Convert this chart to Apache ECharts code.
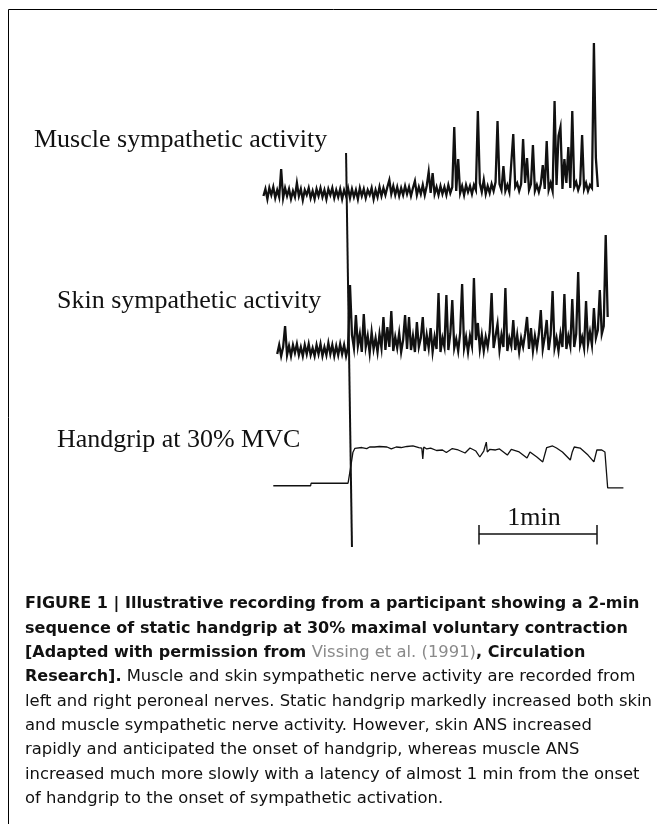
<!DOCTYPE html>
<html>
<head>
<meta charset="utf-8">
<script src="https://cdn.jsdelivr.net/npm/echarts@6/dist/echarts.min.js"></script>
<style>
html,body{margin:0;padding:0;background:#fff;}
#chart{width:657px;height:824px;}
</style>
</head>
<body>
<div id="chart"></div>
<script>
// ---------- DATA (time in s, 0 = handgrip onset) ----------
var muscleStart = -44;   // first sample time (s), 1 s sampling
var muscleValues = [
 -0.3, 0.4,-0.6, 0.5,-0.2, 0.6,-0.5, 0.3,-0.4, 2.4,
 -0.5, 0.5,-0.3, 0.4,-0.6, 0.2,-0.4, 1.0,-0.3, 0.4,
 -0.7, 0.3,-0.2, 0.5,-0.5, 0.2,-0.6, 0.4,-0.3, 0.5,
 -0.4, 0.3,-0.6, 0.4,-0.2, 0.5,-0.5, 0.3,-0.4, 0.4,
 -0.6, 0.3,-0.3, 0.5,-0.5, 0.4,-0.4, 0.3,-0.6, 0.5,
 -0.3, 0.4,-0.5, 0.3,-0.2, 0.5,-0.6, 0.3,-0.4, 0.6,
 -0.3, 0.5,-0.2, 0.6, 1.3,-0.1, 0.7,-0.2, 0.6,-0.3,
  0.5,-0.2, 0.7,-0.1, 0.6,-0.3, 0.5, 1.2,-0.2, 0.6,
 -0.1, 0.8,-0.2, 0.7, 2.1, 0.0, 2.0,-0.1, 0.6,-0.2,
  0.7,-0.1, 0.6,-0.2, 0.8, 0.0, 0.6, 6.6, 0.2, 3.4,
  0.0, 0.7,-0.2, 0.8, 0.1, 0.7,-0.1, 0.8, 0.3, 8.2,
  1.0, 0.1, 1.3,-0.1, 0.7, 0.0, 0.9, 0.2, 1.1, 7.2,
  0.9, 0.3, 2.7, 0.2, 0.8, 0.1, 3.0, 5.9, 0.6, 1.0,
  0.2, 0.9, 5.4, 1.0, 3.5, 0.3, 0.9, 4.8, 0.2, 0.8,
  0.1, 0.9, 2.8, 0.4, 5.2, 0.3, 1.0, 0.2, 9.2, 0.8,
  5.7, 6.6, 0.4, 3.4, 1.0, 4.6, 0.5, 8.2, 0.6, 1.1,
  0.3, 0.9, 5.8, 0.4, 1.0, 0.2, 0.8, 0.5,15.0, 3.5,
  0.6
];
var skinStart = -37;
var skinValues = [
 -0.4, 0.5,-0.6, 0.3, 2.4,-0.5, 0.4,-0.6, 0.5,-0.3,
  0.6,-0.5, 0.3,-0.6, 0.5,-0.4, 0.6,-0.5, 0.2,-0.6,
  0.5,-0.4, 0.6,-0.6, 0.3,-0.5, 0.7,-0.4, 0.5,-0.6,
  0.4,-0.5, 0.6,-0.4, 0.5,-0.6, 0.3, 6.5, 1.5, 0.2,
  3.5, 0.4, 1.6,-0.2, 3.6, 0.3, 1.4,-0.3, 1.8, 0.1,
  1.2,-0.2, 1.6, 0.2, 3.3, 0.0, 2.3, 0.3, 3.9,-0.1,
  1.3, 0.2, 1.7,-0.2, 1.0, 3.5, 0.1, 3.3, 0.0, 1.4,
 -0.2, 2.8, 0.3, 1.2, 3.3,-0.1, 1.5, 0.2, 2.2,-0.2,
  1.3, 0.1, 5.7,-0.2, 1.2, 0.3, 5.5, 0.0, 1.6, 5.0,
  0.2, 1.1,-0.1, 1.7, 6.6, 0.2, 1.3,-0.2, 1.4, 0.4,
  7.2, 1.0, 2.7, 0.1, 1.5,-0.1, 1.3, 0.3, 1.8, 5.7,
  0.2, 1.4, 2.6, 0.0, 1.5, 0.3, 6.2,-0.1, 1.2, 0.4,
  3.0, 0.0, 1.5,-0.2, 1.2, 0.3, 1.6, 3.3, 0.1, 2.2,
 -0.1, 1.4, 0.2, 1.6, 4.0, 0.1, 1.3, 3.0, 0.0, 1.5,
  5.9, 0.2, 1.2,-0.1, 1.6, 0.3, 5.6, 0.1, 1.4, 0.4,
  5.1, 0.3, 1.6, 7.8, 0.5, 1.3, 0.2, 4.9, 0.6, 1.8,
  0.5, 4.2, 1.2, 2.0, 6.0, 1.6, 2.4,11.5, 3.3
];
var gripTimes = [-39,-20,-19.8,-1,0,0.5,1.5,2.5,3.5,6,8.5,10,12.5,15,18.8,21,22,23.5,26,29,32,35,36.5,37,37.5,39,41,44,47,49,52,55,58.5,61,64,66,68,69.3,69.8,71,74,76,80,82,83,86,90,91.5,95,98,100,103,105,108,112,113,114,117,121,124,125.5,128,129.6,130.3,131,139];
var gripForce = [0.2,0.2,2.1,2.1,2.1,16,26,29,30,29.6,28.8,30,30,30.4,30,28.5,27.7,30,29.6,30.4,30.8,29.6,29.2,20.8,30,28.5,29.2,27.3,27.7,25.8,28.8,27.7,25.4,29.2,26.9,22.3,26.9,33.8,26.2,28.1,27.7,28.5,23.8,28.1,28.5,26.2,21.5,26.2,22.3,18.5,29.6,30.8,29.2,26.2,20,26.2,30,29.2,23.8,18.5,27.7,27.7,26.2,12.3,-1.5,-1.5];
var onsetTimes = [-2, 1];          // event marker (top, bottom)
var scaleBarStart = 65.5;          // s
var scaleBarLength = 60;           // 1 min
var labels = ['Muscle sympathetic activity','Skin sympathetic activity','Handgrip at 30% MVC'];
var scaleLabel = '1min';

// ---------- BUILD ----------
function uniform(start, vals){ return vals.map(function(v,i){ return [start+i, v]; }); }
function pairs(ts, vs){ return ts.map(function(t,i){ return [t, vs[i]]; }); }

var X0 = 251.65, XW = 393.4;
var grids = [
  {left:X0, width:XW, top:33,  height:180},   // muscle
  {left:X0, width:XW, top:225, height:145},   // skin
  {left:X0, width:XW, top:434, height:117},   // handgrip
  {left:X0, width:XW, top:153, height:394}    // onset marker
];
function xa(i){ return {type:'value', gridIndex:i, min:-50, max:150, show:false}; }
var yAxes = [
  {type:'value', gridIndex:0, min:-2, max:16, show:false},
  {type:'value', gridIndex:1, min:-2, max:12.5, show:false},
  {type:'value', gridIndex:2, min:-50, max:40, show:false},
  {type:'value', gridIndex:3, min:0, max:1, show:false}
];
var black = '#111';
var barY = -37, tickHalf = 7;
var series = [
  {type:'line', xAxisIndex:0, yAxisIndex:0, data:uniform(muscleStart, muscleValues), showSymbol:false, symbol:'none', lineStyle:{color:black, width:2.3, join:'miter'}, silent:true, animation:false},
  {type:'line', xAxisIndex:1, yAxisIndex:1, data:uniform(skinStart, skinValues), showSymbol:false, symbol:'none', lineStyle:{color:black, width:2.3, join:'miter'}, silent:true, animation:false},
  {type:'line', xAxisIndex:2, yAxisIndex:2, data:pairs(gripTimes, gripForce), showSymbol:false, symbol:'none', lineStyle:{color:black, width:1.3}, silent:true, animation:false},
  {type:'line', xAxisIndex:3, yAxisIndex:3, data:[[onsetTimes[0],1],[onsetTimes[1],0]], showSymbol:false, symbol:'none', lineStyle:{color:black, width:2}, silent:true, animation:false},
  // scale bar
  {type:'line', xAxisIndex:2, yAxisIndex:2, data:[[scaleBarStart,barY],[scaleBarStart+scaleBarLength,barY]], symbol:'none', lineStyle:{color:black,width:1.5}, silent:true, animation:false,
    markLine:{silent:true, symbol:'none', label:{show:false}, lineStyle:{color:black,width:1.5,type:'solid'}, animation:false,
      data:[
        [{coord:[scaleBarStart,barY+tickHalf]},{coord:[scaleBarStart,barY-tickHalf-1]}],
        [{coord:[scaleBarStart+scaleBarLength,barY+tickHalf]},{coord:[scaleBarStart+scaleBarLength,barY-tickHalf-1]}]
      ]}}
];

var serif = '"Liberation Serif", "Times New Roman", serif';
var sans = '"DejaVu Sans", sans-serif';
var lh = 24.35, capTop = 596;
var rich = {
  b:{fontFamily:sans, fontWeight:'bold', fontSize:16, fill:'#111'},
  r:{fontFamily:sans, fontWeight:'normal', fontSize:16.4, fill:'#111'},
  g:{fontFamily:sans, fontWeight:'normal', fontSize:16.4, fill:'#8a8a8a'}
};
var capLines = [
  '{b|FIGURE 1 | Illustrative recording from a participant showing a 2-min}',
  '{b|sequence of static handgrip at 30% maximal voluntary contraction}',
  '{b|[Adapted with permission from }{g|Vissing et al. (1991)}{b|, Circulation}',
  '{b|Research].}{r| Muscle and skin sympathetic nerve activity are recorded from}',
  '{r|left and right peroneal nerves. Static handgrip markedly increased both skin}',
  '{r|and muscle sympathetic nerve activity. However, skin ANS increased}',
  '{r|rapidly and anticipated the onset of handgrip, whereas muscle ANS}',
  '{r|increased much more slowly with a latency of almost 1 min from the onset}',
  '{r|of handgrip to the onset of sympathetic activation.}'
];
var graphic = [
  {type:'rect', shape:{x:8.5, y:9.5, width:700, height:900}, style:{fill:'#fff', stroke:'#000', lineWidth:1}, z:-10, silent:true},
  {type:'text', left:34, top:127.5, style:{text:labels[0], font:'26px '+serif, fill:'#111'}},
  {type:'text', left:57, top:288.5, style:{text:labels[1], font:'26px '+serif, fill:'#111'}},
  {type:'text', left:57, top:427.5, style:{text:labels[2], font:'26px '+serif, fill:'#111'}},
  {type:'text', x:534, y:505, style:{text:scaleLabel, font:'26px '+serif, fill:'#111', align:'center'}}
];
capLines.forEach(function(t,i){
  graphic.push({type:'text', x:25, y:capTop + i*lh, style:{text:t, rich:rich, verticalAlign:'top'}});
});

var chart = echarts.init(document.getElementById('chart'), null, {renderer:'canvas'});
chart.setOption({
  animation:false,
  backgroundColor:'#fff',
  grid:grids,
  xAxis:[xa(0),xa(1),xa(2),xa(3)],
  yAxis:yAxes,
  series:series,
  graphic:graphic
});
</script>
</body>
</html>
